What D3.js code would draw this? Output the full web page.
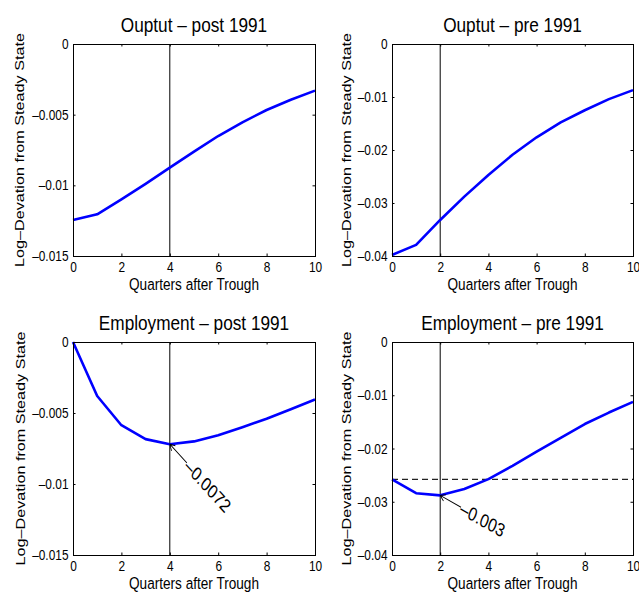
<!DOCTYPE html>
<html>
<head>
<meta charset="utf-8">
<script src="https://cdn.jsdelivr.net/npm/d3@7"></script>
<style>
body { margin: 0; background: #fff; }
text { font-family: "Liberation Sans", Arial, Helvetica, sans-serif; fill: #000; }
</style>
</head>
<body>
<div id="chart"></div>
<script>
// quarters after the trough
var quarters = [0, 1, 2, 3, 4, 5, 6, 7, 8, 9, 10];

// log deviations
var outputPost = [-0.01245, -0.01205, -0.0110, -0.0099, -0.00875, -0.00762, -0.00651, -0.00554, -0.00467, -0.00394, -0.0033];
var outputPre = [-0.0398, -0.0379, -0.0332, -0.0288, -0.0247, -0.0209, -0.0176, -0.0148, -0.0125, -0.0104, -0.0087];
var employmentPost = [0, -0.0038, -0.00586, -0.00684, -0.0072, -0.0070, -0.00656, -0.0060, -0.0054, -0.00473, -0.00405];
var employmentPre = [-0.0258, -0.0284, -0.0288, -0.0276, -0.02575, -0.02325, -0.0206, -0.0180, -0.0154, -0.01325, -0.01125];

var xTicks = [0, 2, 4, 6, 8, 10];
var yTicksSmall = [-0.015, -0.01, -0.005, 0];
var yTickLabelsSmall = ["\u20130.015", "\u20130.01", "\u20130.005", "0"];
var yTicksLarge = [-0.04, -0.03, -0.02, -0.01, 0];
var yTickLabelsLarge = ["\u20130.04", "\u20130.03", "\u20130.02", "\u20130.01", "0"];

var titles = ["Ouptut \u2013 post 1991", "Ouptut \u2013 pre 1991", "Employment \u2013 post 1991", "Employment \u2013 pre 1991"];
var troughMarks = [4, 2, 4, 2];
var annotationText = ["\u20130.0072", "\u20130.003"];
var preEmploymentStart = -0.0258;

var xLabel = "Quarters after Trough";
var yLabel = "Log\u2013Devation from Steady State";

// the picture is squeezed horizontally, text included
var squeeze = 0.82;

var svg = d3.select("#chart").append("svg")
  .attr("width", 639)
  .attr("height", 593);

var panels = [
  { left: 73, top: 44, width: 242, height: 212, values: outputPost, ticks: yTicksSmall, tickLabels: yTickLabelsSmall, ylabelX: 24 },
  { left: 392, top: 44, width: 241, height: 212, values: outputPre, ticks: yTicksLarge, tickLabels: yTickLabelsLarge, ylabelX: 351 },
  { left: 73, top: 342, width: 242, height: 213, values: employmentPost, ticks: yTicksSmall, tickLabels: yTickLabelsSmall, ylabelX: 25, note: { text: annotationText[0], angle: 42 } },
  { left: 392, top: 342, width: 241, height: 213, values: employmentPre, ticks: yTicksLarge, tickLabels: yTickLabelsLarge, ylabelX: 351, note: { text: annotationText[1], angle: 25 }, dashed: preEmploymentStart }
];

function drawPanel(p, i)
{
  var bottom = p.top + p.height;
  var right = p.left + p.width;

  var x = d3.scaleLinear().domain([0, 10]).range([p.left, right]);
  var y = d3.scaleLinear().domain([p.ticks[0], 0]).range([bottom, p.top]);

  var g = svg.append("g");

  // ticks, inward on all four sides
  g.append("g")
    .attr("transform", `translate(0, ${bottom})`)
    .call(d3.axisBottom(x).tickValues(xTicks).tickSizeInner(-2.5).tickSizeOuter(0).tickPadding(6.2))
    .call(a => a.select(".domain").remove())
    .call(a => a.selectAll("text").attr("font-size", 14.5).attr("font-family", null).attr("transform", `scale(${squeeze},1)`));

  g.append("g")
    .attr("transform", `translate(0, ${p.top})`)
    .call(d3.axisTop(x).tickValues(xTicks).tickSizeInner(-2.5).tickSizeOuter(0).tickFormat(""))
    .call(a => a.select(".domain").remove());

  g.append("g")
    .attr("transform", `translate(${p.left}, 0)`)
    .call(d3.axisLeft(y).tickValues(p.ticks).tickSizeInner(-2.5).tickSizeOuter(0).tickPadding(5.5)
      .tickFormat((d, k) => p.tickLabels[k]))
    .call(a => a.select(".domain").remove())
    .call(a => a.selectAll("text").attr("font-size", 14.5).attr("font-family", null).attr("transform", `scale(${squeeze},1)`));

  g.append("g")
    .attr("transform", `translate(${right}, 0)`)
    .call(d3.axisRight(y).tickValues(p.ticks).tickSizeInner(-2.5).tickSizeOuter(0).tickFormat(""))
    .call(a => a.select(".domain").remove());

  g.selectAll(".tick line").attr("stroke", "#000");

  if (p.dashed !== undefined)
  {
    g.append("line")
      .attr("x1", p.left).attr("x2", right)
      .attr("y1", y(p.dashed)).attr("y2", y(p.dashed))
      .attr("stroke", "#222")
      .attr("stroke-width", 1.2)
      .attr("stroke-dasharray", "6,4");
  }

  // trough marker
  g.append("line")
    .attr("x1", x(troughMarks[i])).attr("x2", x(troughMarks[i]))
    .attr("y1", p.top).attr("y2", bottom)
    .attr("stroke", "#000")
    .attr("stroke-width", 1);

  var line = d3.line()
    .x((d, k) => x(quarters[k]))
    .y(d => y(d));

  g.append("path")
    .datum(p.values)
    .attr("d", line)
    .attr("fill", "none")
    .attr("stroke", "#0000ff")
    .attr("stroke-width", 2.6)
    .attr("stroke-linejoin", "round");

  // box
  g.append("rect")
    .attr("x", p.left).attr("y", p.top)
    .attr("width", p.width).attr("height", p.height)
    .attr("fill", "none")
    .attr("stroke", "#000")
    .attr("stroke-width", 1)
    .attr("shape-rendering", "crispEdges");

  if (p.note)
  {
    var k = quarters.indexOf(troughMarks[i]);
    var note = g.append("g")
      .attr("transform", `translate(${x(troughMarks[i])}, ${y(p.values[k])}) scale(${squeeze},1) rotate(${p.note.angle})`);
    note.append("path")
      .attr("d", "M6,-3.5L0,0L6,3.5M0,0L28,0")
      .attr("fill", "none")
      .attr("stroke", "#000")
      .attr("stroke-width", 1);
    note.append("text")
      .attr("x", 28)
      .attr("dy", "0.35em")
      .attr("font-size", 19)
      .text(p.note.text);
  }

  // titles and labels
  svg.append("text")
    .attr("transform", `translate(${(p.left + right) / 2}, ${p.top - 12}) scale(${squeeze},1)`)
    .attr("text-anchor", "middle")
    .attr("font-size", 21)
    .text(titles[i]);

  svg.append("text")
    .attr("transform", `translate(${(p.left + right) / 2}, ${bottom + 34}) scale(${squeeze},1)`)
    .attr("text-anchor", "middle")
    .attr("font-size", 16.6)
    .text(xLabel);

  svg.append("text")
    .attr("transform", `translate(${p.ylabelX}, ${(p.top + bottom) / 2}) scale(${squeeze},1) rotate(-90)`)
    .attr("text-anchor", "middle")
    .attr("font-size", 16.2)
    .text(yLabel);
}

panels.forEach(drawPanel);
</script>
</body>
</html>
